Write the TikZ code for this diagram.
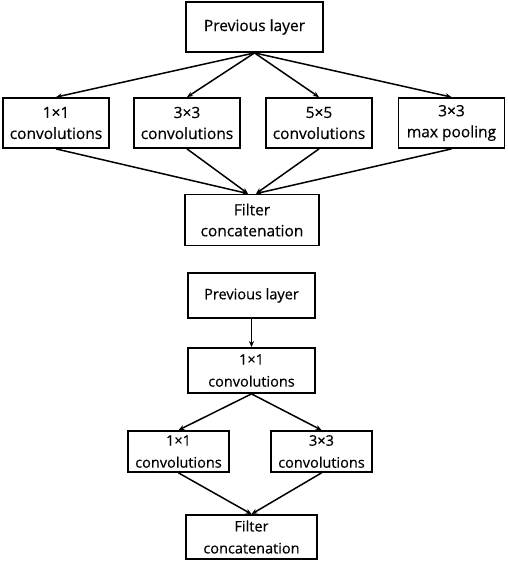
\documentclass[tikz,border=0pt]{standalone}
\usepackage{fontspec}
\setmainfont{Open Sans}
\newfontfamily\boxfont{Open Sans}[FakeBold=0.4]
\usepackage{tikz}
\usetikzlibrary{arrows.meta}
\tikzset{
    layer-box/.style = {draw=black, fill=white, line width=1.8pt, rectangle, inner sep=0pt, align=center, font=\boxfont\fontsize{15.5}{21}\selectfont},
    small-box/.style = {layer-box, font=\boxfont\fontsize{14.5}{22}\selectfont},
    flow-arrow/.style = {draw=black, line width=1.5pt, -{Stealth[length=6pt,width=5pt]}},
}

\begin{document}
\begin{tikzpicture}[x=1pt,y=-1pt]
\useasboundingbox (0,0) rectangle (508,562);
% naive inception module
\node [layer-box, minimum width=137pt, minimum height=50pt] (prev) at (254.5,27) {Previous layer};
\node [layer-box, minimum width=106pt, minimum height=50pt] (convA) at (56,123) {1×1\\convolutions};
\node [layer-box, minimum width=106pt, minimum height=50pt] (convB) at (187,123) {3×3\\convolutions};
\node [layer-box, minimum width=106pt, minimum height=50pt] (convC) at (319,123) {5×5\\convolutions};
\node [layer-box, minimum width=106pt, minimum height=50pt] (pool) at (451.5,123) {3×3\\max pooling};
\node [layer-box, minimum width=134pt, minimum height=51pt] (concat) at (252,220) {Filter\\concatenation};
\foreach \n in {convA, convB, convC, pool}
    \draw [flow-arrow] (prev.south) -- (\n.north);
\foreach \n in {convA, convB}
    \draw [flow-arrow] (\n.south) -- ([xshift=-4pt]concat.north);
\foreach \n in {convC, pool}
    \draw [flow-arrow] (\n.south) -- ([xshift=4pt]concat.north);
% factorised version
\node [small-box, minimum width=127pt, minimum height=45pt] (prevB) at (251.5,295.5) {Previous layer};
\node [small-box, minimum width=127pt, minimum height=45pt] (reduce) at (251.5,370.5) {1×1\\convolutions};
\node [small-box, minimum width=101pt, minimum height=41pt] (left) at (178.5,451.5) {1×1\\convolutions};
\node [small-box, minimum width=101pt, minimum height=41pt] (right) at (321.5,451.5) {3×3\\convolutions};
\node [small-box, minimum width=131pt, minimum height=44pt] (concatB) at (251.5,537) {Filter\\concatenation};
\draw [flow-arrow] (prevB.south) -- (reduce.north);
\foreach \n in {left, right} {
    \draw [flow-arrow] (reduce.south) -- (\n.north);
    \draw [flow-arrow] (\n.south) -- (concatB.north);
}
\end{tikzpicture}
\end{document}
